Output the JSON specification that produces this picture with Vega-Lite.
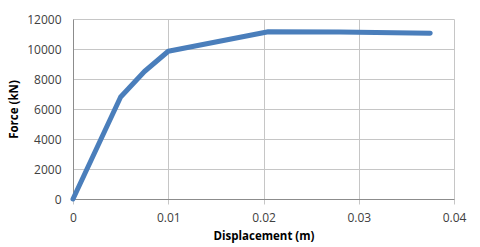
{
  "$schema": "https://vega.github.io/schema/vega-lite/v6.json",
  "width": 381,
  "height": 180,
  "autosize": "none",
  "padding": {"left": 73, "top": 19, "right": 26, "bottom": 48},
  "background": "white",
  "config": {
    "view": {"stroke": null},
    "font": "Open Sans",
    "axis": {
      "gridColor": "#c6c6c6",
      "gridWidth": 1,
      "domainColor": "#8c8c8c",
      "tickColor": "#c6c6c6",
      "tickSize": 5,
      "labelFont": "Open Sans",
      "labelFontSize": 12,
      "labelColor": "#404040",
      "labelFlush": false,
      "labelOverlap": false,
      "titleFont": "Open Sans",
      "titleFontSize": 11.5,
      "titleFontWeight": "bold",
      "titleColor": "#000000"
    }
  },
  "data": {
    "values": [
      {"d": 0, "f": 0},
      {"d": 0.005, "f": 6800},
      {"d": 0.0075, "f": 8500},
      {"d": 0.01, "f": 9850},
      {"d": 0.0205, "f": 11150},
      {"d": 0.028, "f": 11130},
      {"d": 0.0375, "f": 11050}
    ]
  },
  "mark": {"type": "line", "color": "#4a7ebb", "strokeWidth": 5, "strokeCap": "round", "strokeJoin": "round"},
  "encoding": {
    "x": {
      "field": "d", "type": "quantitative",
      "scale": {"domain": [0, 0.04], "nice": false},
      "axis": {"values": [0, 0.01, 0.02, 0.03, 0.04], "format": "~g", "title": "Displacement (m)", "labelPadding": 8, "titlePadding": 7}
    },
    "y": {
      "field": "f", "type": "quantitative",
      "scale": {"domain": [0, 12000], "nice": false},
      "axis": {"values": [0, 2000, 4000, 6000, 8000, 10000, 12000], "format": "d", "title": "Force (kN)", "ticks": false, "labelPadding": 12, "titlePadding": 7}
    }
  }
}
